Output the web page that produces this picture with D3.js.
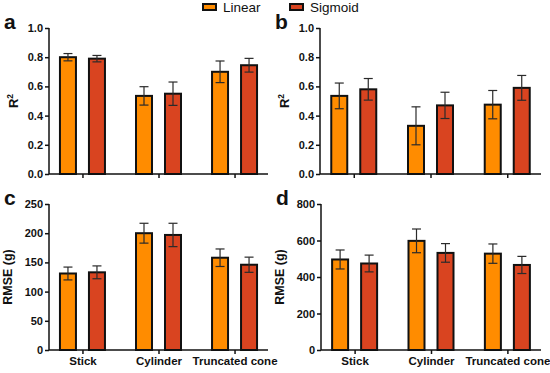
<html>
<head>
	<script src="https://d3js.org/d3.v7.min.js"></script>
	<style>
		body { margin: 0; background: #fff; }
		text { font-family: "Liberation Sans", Arial, sans-serif; }
	</style>
</head>
<body>
	<script>
		// data
		var categories = ["Stick", "Cylinder", "Truncated cone"];
		var series = ["Linear", "Sigmoid"];
		var colors = ["#FF8C00", "#D94420"];

		var r2A = [0.80, 0.535, 0.70];   // linear
		var r2A_s = [0.79, 0.55, 0.745]; // sigmoid
		var r2AErrL = [0.025, 0.063, 0.074];
		var r2AErrS = [0.022, 0.08, 0.047];

		var r2B = [0.535, 0.33, 0.475];
		var r2B_s = [0.58, 0.47, 0.59];
		var r2BErrL = [0.088, 0.13, 0.097];
		var r2BErrS = [0.074, 0.09, 0.085];

		var rmseC = [131, 200, 158];
		var rmseC_s = [133, 197, 146];
		var rmseCErrL = [11, 17, 15];
		var rmseCErrS = [11, 20, 13];

		var rmseD = [496, 598, 528];
		var rmseD_s = [474, 532, 466];
		var rmseDErrL = [52, 65, 53];
		var rmseDErrS = [46, 51, 47];

		var r2Ticks = [0, 0.2, 0.4, 0.6, 0.8, 1.0];
		var rmseCTicks = [0, 50, 100, 150, 200, 250];
		var rmseDTicks = [0, 200, 400, 600, 800];

		var W = 550, H = 373;
		var svg = d3.select("body").append("svg").attr("width", W).attr("height", H);

		function panel(o) {
			var g = svg.append("g").attr("transform", "translate(" + o.x + "," + o.y + ")");
			var w = o.w, h = 146;
			var x = d3.scalePoint().domain(categories).range([0, w]).padding(0.44);
			var y = d3.scaleLinear().domain([0, o.max]).range([h, 0]);

			var rows = categories.map(function(c, i) {
				return [
					{cat: c, s: 0, v: o.lin[i], e: o.linErr[i]},
					{cat: c, s: 1, v: o.sig[i], e: o.sigErr[i]}
				];
			});
			var flat = [].concat.apply([], rows);
			var bw = 16, off = 14.5;

			var bars = g.selectAll(".bar").data(flat).enter().append("g");
			bars.append("rect")
				.attr("x", function(d){ return x(d.cat) + (d.s ? off : -off) - bw / 2; })
				.attr("y", function(d){ return y(d.v); })
				.attr("width", bw)
				.attr("height", function(d){ return h - y(d.v); })
				.attr("fill", function(d){ return colors[d.s]; })
				.attr("stroke", "#111").attr("stroke-width", 2);

			// error bars
			bars.each(function(d) {
				var cx = x(d.cat) + (d.s ? off : -off);
				var sel = d3.select(this);
				sel.append("line").attr("x1", cx).attr("x2", cx)
					.attr("y1", y(d.v + d.e)).attr("y2", y(d.v - d.e));
				[d.v + d.e, d.v - d.e].forEach(function(t) {
					sel.append("line").attr("x1", cx - 4.5).attr("x2", cx + 4.5)
						.attr("y1", y(t)).attr("y2", y(t));
				});
				sel.selectAll("line").attr("stroke", "#2a2a2a").attr("stroke-width", 1.2);
			});

			var yAxis = d3.axisLeft(y).tickValues(o.ticks).tickSize(4).tickPadding(2)
				.tickFormat(o.fmt);
			var ya = g.append("g").call(yAxis);
			ya.select(".domain").attr("stroke", "#111").attr("stroke-width", 1.5).attr("d", "M0,0V" + h);
			ya.selectAll(".tick line").attr("stroke", "#111").attr("stroke-width", 1.5);
			ya.selectAll("text").attr("font-size", 11).attr("font-weight", "bold").attr("fill", "#111")
				.style("font-family", "Liberation Sans, Arial, sans-serif");

			var xAxis = d3.axisBottom(x).tickSize(4).tickPadding(3)
				.tickFormat(o.showCats ? null : "");
			var xa = g.append("g").attr("transform", "translate(0," + h + ")").call(xAxis);
			xa.select(".domain").attr("stroke", "#111").attr("stroke-width", 1.5).attr("d", "M0,0H" + w);
			xa.selectAll(".tick line").attr("stroke", "#111").attr("stroke-width", 1.5);
			xa.selectAll("text").attr("font-size", 11.5).attr("font-weight", "bold").attr("fill", "#111")
				.style("font-family", "Liberation Sans, Arial, sans-serif");

			// axis title
			var t = g.append("text")
				.attr("transform", "translate(" + o.titleX + "," + (h / 2) + ") rotate(-90)")
				.attr("text-anchor", "middle")
				.attr("font-size", o.r2 ? 13 : 12.5).attr("font-weight", "bold").attr("fill", "#111");
			if (o.r2) {
				t.append("tspan").text("R");
				t.append("tspan").attr("font-size", 8.5).attr("dy", -5).text("2");
			} else {
				t.text("RMSE (g)");
			}

			// panel letter
			g.append("text").attr("x", o.letterX).attr("y", 1)
				.attr("font-size", 21).attr("font-weight", "bold").attr("fill", "#111")
				.text(o.letter);
		}

		var f1 = d3.format(".1f");
		panel({x: 49, y: 28, w: 219, max: 1, lin: r2A, sig: r2A_s, linErr: r2AErrL, sigErr: r2AErrS,
			ticks: r2Ticks, fmt: f1, r2: true, titleX: -31, letter: "a", letterX: -45, showCats: false});
		panel({x: 320, y: 28, w: 221, max: 1, lin: r2B, sig: r2B_s, linErr: r2BErrL, sigErr: r2BErrS,
			ticks: r2Ticks, fmt: f1, r2: true, titleX: -31, letter: "b", letterX: -45, showCats: false});
		panel({x: 49, y: 204, w: 219, max: 250, lin: rmseC, sig: rmseC_s, linErr: rmseCErrL, sigErr: rmseCErrS,
			ticks: rmseCTicks, fmt: d3.format("d"), r2: false, titleX: -37, letter: "c", letterX: -45, showCats: true});
		panel({x: 321, y: 204, w: 220, max: 800, lin: rmseD, sig: rmseD_s, linErr: rmseDErrL, sigErr: rmseDErrS,
			ticks: rmseDTicks, fmt: d3.format("d"), r2: false, titleX: -37, letter: "d", letterX: -45, showCats: true});

		// legend
		var leg = svg.append("g").attr("transform", "translate(203,3)");
		var legX = [0, 87];
		series.forEach(function(s, i) {
			leg.append("rect").attr("x", legX[i]).attr("y", 1).attr("width", 13).attr("height", 6)
				.attr("fill", colors[i]).attr("stroke", "#111").attr("stroke-width", 2);
			leg.append("text").attr("x", legX[i] + 20).attr("y", 9)
				.attr("font-size", 13.5).attr("fill", "#111").text(s);
		});
	</script>
</body>
</html>
